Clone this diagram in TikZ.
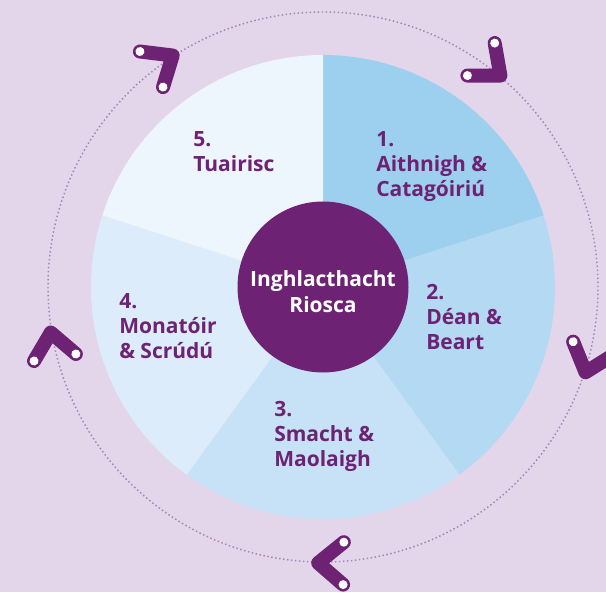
\documentclass[tikz,border=0pt]{standalone}
\usepackage{fontspec}
\setmainfont{Open Sans}
\usepackage{tikz}

\definecolor{lavender}{HTML}{E3D6EA}
\definecolor{plum}{HTML}{6E2273}
\definecolor{ringdot}{HTML}{A683B6}
\definecolor{segA}{HTML}{9DCFEF}
\definecolor{segB}{HTML}{B3D9F3}
\definecolor{segC}{HTML}{C7E2F6}
\definecolor{segD}{HTML}{DCECFA}
\definecolor{segE}{HTML}{EEF6FD}

% one purple turn arrow on the ring, apex pointing clockwise
\newcommand{\cyclearrow}[1]{%
  \begin{scope}[shift={(#1:276)}, rotate=#1]
    \draw[arrowbend] (50:33) -- (0,0) -- (130:33);
    \fill[white] (50:33) circle[radius=4.5];
    \fill[white] (130:33) circle[radius=4.5];
  \end{scope}}

\begin{document}
\begin{tikzpicture}[x=0.75pt, y=0.75pt,
  steptext/.style={anchor=base west, align=left, text=plum, inner sep=0pt,
    font=\fontsize{15.75}{18.75}\selectfont\bfseries},
  arrowbend/.style={draw=plum, line width=10.5pt, line cap=round, line join=round},
  ring/.style={draw=ringdot, line width=1.1pt, dash pattern=on 1.1pt off 1.9pt}]
\fill[lavender] (-323,-305) rectangle (283,287);
\useasboundingbox (-323,-305) rectangle (283,287);

% dotted ring
\draw[ring] (0,0) circle[radius=275];

% five segments
\fill[segA] (0,0) -- (90:232) arc[start angle=90, end angle=18, radius=232] -- cycle;
\fill[segB] (0,0) -- (18:232) arc[start angle=18, end angle=-54, radius=232] -- cycle;
\fill[segC] (0,0) -- (-54:232) arc[start angle=-54, end angle=-126, radius=232] -- cycle;
\fill[segD] (0,0) -- (-126:232) arc[start angle=-126, end angle=-198, radius=232] -- cycle;
\fill[segE] (0,0) -- (162:232) arc[start angle=162, end angle=90, radius=232] -- cycle;

\node [circle, fill=plum, minimum size=128.25pt] (hub) at (0,0) {};
\node [text=white, align=center, font=\fontsize{15.75}{19.5}\selectfont\bfseries]
  (hubtext) at (0,-5) {Inghlacthacht\\Riosca};

% labels, anchored on the baseline of their last line
\node [steptext] (s1) at (53,90) {1.\\Aithnigh \&\\Catagóiriú};
\node [steptext] (s2) at (103,-62) {2.\\Déan \&\\Beart};
\node [steptext] (s3) at (-49,-179) {3.\\Smacht \&\\Maolaigh};
\node [steptext] (s4) at (-204,-71) {4.\\Monatóir\\\& Scrúdú};
\node [steptext] (s5) at (-130,115) {5.\\Tuairisc};

% arrows on the ring
\cyclearrow{123}
\cyclearrow{50}
\cyclearrow{-18}
\cyclearrow{-91}
\cyclearrow{189.5}
\end{tikzpicture}
\end{document}
